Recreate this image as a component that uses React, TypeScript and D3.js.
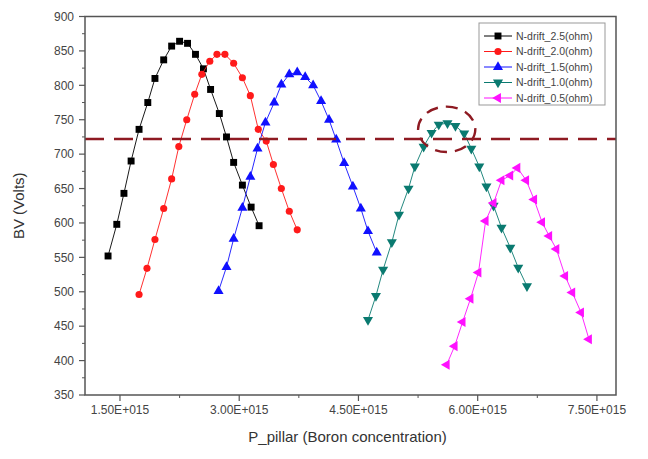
import React from "react";
import * as d3 from "d3";

// P_pillar in units of 1E+015, BV in volts
const xN25 = [1.35, 1.46, 1.55, 1.64, 1.74, 1.85, 1.94, 2.05, 2.15, 2.25, 2.35, 2.45, 2.55, 2.64, 2.75, 2.84, 2.93, 3.04, 3.15, 3.25];
const bvN25 = [552, 598, 643, 690, 736, 775, 810, 837, 857, 864, 861, 845, 824, 794, 759, 725, 688, 655, 623, 596];

const xN20 = [1.74, 1.84, 1.94, 2.05, 2.15, 2.24, 2.34, 2.44, 2.53, 2.63, 2.72, 2.82, 2.93, 3.04, 3.14, 3.24, 3.34, 3.43, 3.53, 3.63, 3.73];
const bvN20 = [496, 534, 576, 621, 664, 711, 750, 787, 816, 835, 845, 845, 832, 811, 785, 736, 719, 685, 650, 617, 590];

const xN15 = [2.74, 2.84, 2.93, 3.04, 3.14, 3.23, 3.33, 3.44, 3.53, 3.63, 3.73, 3.83, 3.93, 4.03, 4.13, 4.22, 4.32, 4.43, 4.53, 4.62, 4.73];
const bvN15 = [501, 536, 577, 622, 667, 708, 746, 775, 801, 816, 819, 812, 800, 777, 750, 721, 687, 653, 621, 588, 557];

const xN10 = [4.62, 4.72, 4.81, 4.92, 5.01, 5.13, 5.21, 5.32, 5.42, 5.51, 5.62, 5.72, 5.83, 5.92, 6.02, 6.11, 6.2, 6.3, 6.41, 6.51, 6.62];
const bvN10 = [459, 494, 532, 572, 612, 650, 682, 711, 731, 743, 745, 741, 730, 708, 682, 653, 625, 593, 564, 535, 508];

const xN05 = [5.61, 5.71, 5.81, 5.91, 6.01, 6.1, 6.2, 6.3, 6.41, 6.5, 6.61, 6.71, 6.81, 6.9, 6.99, 7.1, 7.19, 7.3, 7.4];
const bvN05 = [394, 421, 456, 490, 528, 603, 629, 662, 669, 680, 662, 634, 601, 581, 562, 523, 499, 470, 431];

const seriesNames = ["N-drift_2.5(ohm)", "N-drift_2.0(ohm)", "N-drift_1.5(ohm)", "N-drift_1.0(ohm)", "N-drift_0.5(ohm)"];
const seriesColors = ["#000000", "#ff1a1a", "#1010ff", "#0a7a70", "#ff10ff"];

const xTicks = [1.5, 3.0, 4.5, 6.0, 7.5];
const xMinorTicks = [2.25, 3.75, 5.25, 6.75];
const yTicks = [350, 400, 450, 500, 550, 600, 650, 700, 750, 800, 850, 900];

const thresholdBV = 722;
// highlighted peak (center and half-extents in data units)
const circleX = 5.61;
const circleY = 736;
const circleRx = 0.36;
const circleRy = 33;

const W = 648;
const H = 459;
const left = 85;
const right = 616;
const top = 16.5;
const bottom = 395;

const symbolPath = (i: number) => {
  const types = [d3.symbolSquare, d3.symbolCircle, d3.symbolTriangle, d3.symbolTriangle, d3.symbolTriangle];
  const sizes = [48, 40, 44, 44, 44];
  return d3.symbol().type(types[i]).size(sizes[i])() as string;
};
const symbolRotate = [0, 0, 0, 180, -90];

export default function App() {
  const x = d3.scaleLinear().domain([1.06, 7.74]).range([left, right]);
  const y = d3.scaleLinear().domain([350, 900]).range([bottom, top]);

  const data = [
    [xN25, bvN25],
    [xN20, bvN20],
    [xN15, bvN15],
    [xN10, bvN10],
    [xN05, bvN05],
  ].map(([xs, ys]) => xs.map((v, k) => [v, ys[k]] as [number, number]));

  const line = d3
    .line<[number, number]>()
    .x((d) => x(d[0]))
    .y((d) => y(d[1]));

  const yMinor = yTicks.slice(0, -1).map((t) => t + 25);
  const font = "'Liberation Sans', Arial, sans-serif";

  const ex0 = x(circleX - circleRx);
  const ex1 = x(circleX + circleRx);
  const ey0 = y(circleY + circleRy);
  const ey1 = y(circleY - circleRy);

  return (
    <svg width={W} height={H} style={{ position: "absolute", left: 0, top: 0, background: "#fff" }} fontFamily={font}>
      {/* series */}
      {data.map((pts, i) => (
        <g key={i}>
          <path d={line(pts) as string} fill="none" stroke={seriesColors[i]} strokeWidth={0.9} />
          {pts.map((d, k) => (
            <path
              key={k}
              d={symbolPath(i)}
              transform={`translate(${x(d[0])},${y(d[1])}) rotate(${symbolRotate[i]})`}
              fill={seriesColors[i]}
            />
          ))}
        </g>
      ))}

      {/* breakdown threshold */}
      <line x1={left} x2={right} y1={y(thresholdBV)} y2={y(thresholdBV)} stroke="#8e1a22" strokeWidth={2.4} strokeDasharray="19,10" />
      <ellipse
        cx={(ex0 + ex1) / 2}
        cy={(ey0 + ey1) / 2}
        rx={(ex1 - ex0) / 2}
        ry={(ey1 - ey0) / 2}
        fill="none"
        stroke="#8e1a22"
        strokeWidth={2.4}
        strokeDasharray="12,8"
      />

      {/* frame */}
      <rect x={left} y={top} width={right - left} height={bottom - top} fill="none" stroke="#555" strokeWidth={1.5} />

      {/* y axis */}
      {yTicks.map((t) => (
        <g key={t}>
          <line x1={left - 6} x2={left} y1={y(t)} y2={y(t)} stroke="#555" strokeWidth={1.2} />
          <text x={left - 11} y={y(t)} dy="0.35em" textAnchor="end" fontSize={12} fill="#444">
            {t}
          </text>
        </g>
      ))}
      {yMinor.map((t) => (
        <line key={t} x1={left - 3} x2={left} y1={y(t)} y2={y(t)} stroke="#555" strokeWidth={1} />
      ))}

      {/* x axis */}
      {xTicks.map((t) => (
        <g key={t}>
          <line x1={x(t)} x2={x(t)} y1={bottom} y2={bottom + 6} stroke="#555" strokeWidth={1.2} />
          <text x={x(t)} y={bottom + 19} textAnchor="middle" fontSize={12} fill="#444">
            {t.toFixed(2) + "E+015"}
          </text>
        </g>
      ))}
      {xMinorTicks.map((t) => (
        <line key={t} x1={x(t)} x2={x(t)} y1={bottom} y2={bottom + 3} stroke="#555" strokeWidth={1} />
      ))}

      {/* axis titles */}
      <text x={(left + right) / 2 - 3} y={442} textAnchor="middle" fontSize={15} fill="#333">
        P_pillar (Boron concentration)
      </text>
      <text transform={`translate(24,${(top + bottom) / 2}) rotate(-90)`} textAnchor="middle" fontSize={15} fill="#333">
        BV (Volts)
      </text>

      {/* legend */}
      <rect x={479} y={23} width={126} height={82} fill="#fff" stroke="#999" strokeWidth={1} />
      {seriesNames.map((name, i) => {
        const ly = 36 + i * 15.5;
        return (
          <g key={name}>
            <line x1={484} x2={512} y1={ly} y2={ly} stroke={seriesColors[i]} strokeWidth={1} />
            <path d={symbolPath(i)} transform={`translate(498,${ly}) rotate(${symbolRotate[i]})`} fill={seriesColors[i]} />
            <text x={516} y={ly} dy="0.35em" fontSize={10.5} fill="#444">
              {name}
            </text>
          </g>
        );
      })}
    </svg>
  );
}
